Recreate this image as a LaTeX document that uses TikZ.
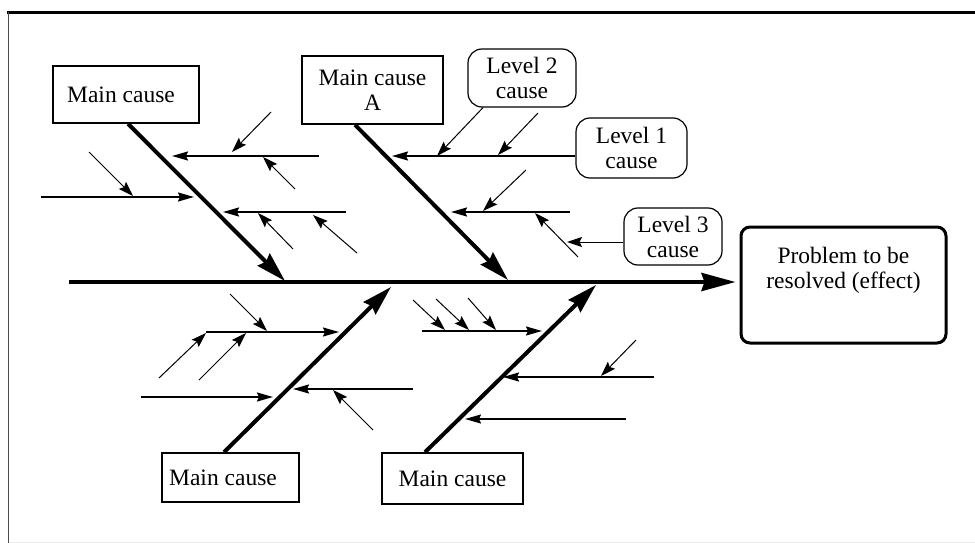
\documentclass[tikz,border=0pt]{standalone}
\usepackage{fontspec}
\setmainfont{Liberation Serif}
\usetikzlibrary{arrows.meta}
\begin{document}
\begin{tikzpicture}[x=1pt,y=-1pt,
  txt/.style={font=\fontsize{23.5}{25}\selectfont, align=center, inner sep=0pt},
  mainbox/.style={txt, draw, line width=1.6pt},
  lvlbox/.style={txt, draw, line width=1.2pt, rounded corners=14pt},
  effbox/.style={txt, draw, line width=3pt, rounded corners=9pt},
  spine/.style={line width=4pt, -{Stealth[length=34pt,width=18pt,inset=3pt]}},
  bone/.style={line width=4pt, -{Stealth[length=30pt,width=17pt,inset=3pt]}},
  lone/.style={line width=1.6pt, -{Stealth[length=16pt,width=9pt,inset=2pt]}},
  ltwo/.style={line width=1pt, -{Stealth[length=15pt,width=10pt,inset=2.5pt]}},
  frametop/.style={line width=3pt},
  frameleft/.style={line width=1.5pt, black!70},
  framebottom/.style={line width=0.8pt, black!8}
]
\useasboundingbox (0,0) rectangle (975,543);

% frame
\coordinate (fTL) at (7,12.5);
\coordinate (fTR) at (975,12.5);
\coordinate (fLT) at (8.5,12.5);
\coordinate (fLB) at (8.5,543);
\coordinate (fBL) at (8.5,542);
\coordinate (fBR) at (975,542);
\draw[frametop] (fTL) -- (fTR);
\draw[frameleft] (fLT) -- (fLB);
\draw[framebottom] (fBL) -- (fBR);

% boxes
\node[mainbox, minimum width=146pt, minimum height=57pt] (mc1) at (126,94.5) {Main cause\hspace*{10pt}};
\node[mainbox, minimum width=141pt, minimum height=68pt] (mcA) at (372.5,90) {Main cause\\A};
\node[mainbox, minimum width=137pt, minimum height=49pt] (mc3) at (230.5,477.5) {Main cause\hspace*{15pt}};
\node[mainbox, minimum width=141pt, minimum height=51pt] (mc4) at (452.5,478.5) {Main cause};
\node[lvlbox, minimum width=108pt, minimum height=58pt] (lv2) at (522,78) {Level 2\\cause};
\node[lvlbox, minimum width=111pt, minimum height=60pt] (lv1) at (631.5,148) {Level 1\\cause};
\node[lvlbox, minimum width=98pt, minimum height=57pt] (lv3) at (673,236.5) {Level 3\\cause};
\node[effbox, minimum width=205pt, minimum height=116pt] (eff) at (843.5,285) {Problem to be\\resolved (effect)\\[10pt]};

% spine
\coordinate (sp0) at (69,282);
\draw[spine, shorten >=4pt] (sp0) -- (sp0 -| eff.west);

% main bones
\coordinate (j1) at (285,281);
\coordinate (j2) at (508,280);
\coordinate (j3) at (391,287);
\coordinate (j4) at (596,285);
\draw[bone] ([xshift=2pt]mc1.south) -- (j1);
\draw[bone] ([xshift=-17.5pt]mcA.south) -- (j2);
\draw[bone] ([xshift=-6.5pt]mc3.north) -- (j3);
\draw[bone] ([xshift=-27.5pt]mc4.north) -- (j4);

% level 1 causes
\coordinate (dE) at (392,156);
\draw[lone] ([yshift=-8pt]lv1.west) -- (dE);
\foreach \n/\xa/\ya/\xb/\yb in {
  a/319/156/172/156, b/41/197/194/197, c/346/212/223/212,
  e/570/212/451/212, f/206/332/339/332, g/141/397/273/397,
  h/413/389/293/389, i/422/331/542/331, j/654/377/503/377,
  k/626/419/465/419}{
  \coordinate (ls\n) at (\xa,\ya);
  \coordinate (le\n) at (\xb,\yb);
  \draw[lone] (ls\n) -- (le\n);
}

% level 2 / level 3 causes
\coordinate (m0) at (437,156);
\draw[ltwo] ([xshift=-39pt]lv2.south) -- (m0);
\coordinate (m3) at (567,242);
\draw[ltwo] ([yshift=-5.5pt]lv3.west) -- (m3);
\foreach \n/\xa/\ya/\xb/\yb in {
  1/271/112/232/152, 2/295/189/263/157, 3/89/152/133/196,
  4/293/249/258/213, 5/357/253/313/215, 6/538/113/498/155,
  7/526/170/483/211, 8/578/257/535/213, 9/230/294/267/331,
  10/159/378/206/333, 11/199/380/246/333, 12/373/430/333/390,
  13/413/300/445/330, 14/436/299/469/330, 15/468/298/496/330,
  16/636/340/601/376}{
  \coordinate (ms\n) at (\xa,\ya);
  \coordinate (me\n) at (\xb,\yb);
  \draw[ltwo] (ms\n) -- (me\n);
}
\end{tikzpicture}
\end{document}
